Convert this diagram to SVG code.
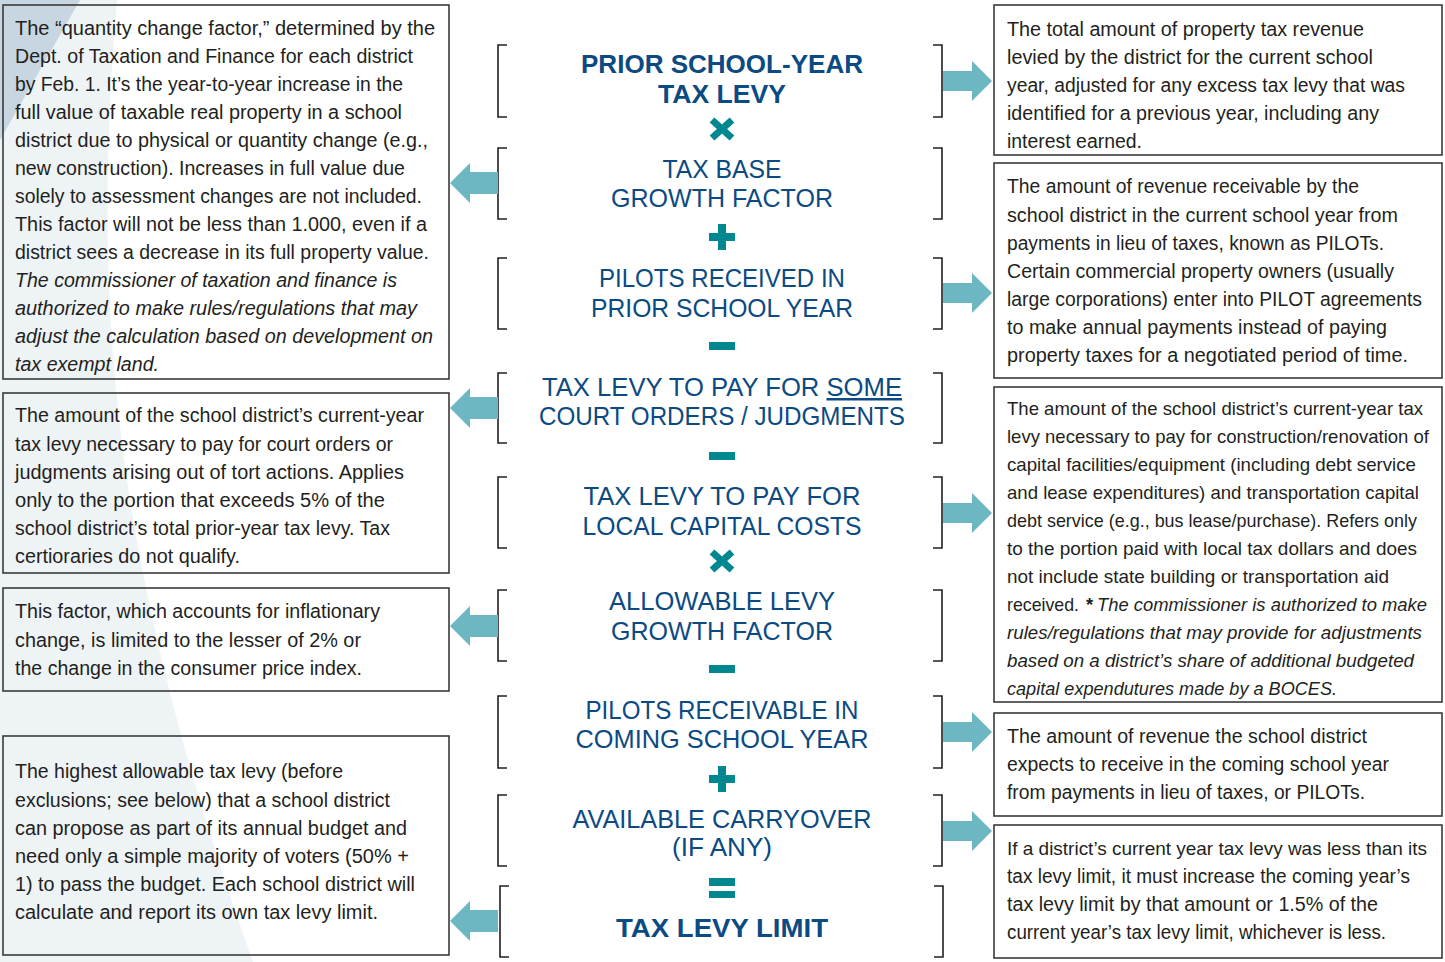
<svg xmlns="http://www.w3.org/2000/svg" width="1445" height="962" viewBox="0 0 1445 962">
<style>
.bg{fill:#ffffff}
.bgl{fill:#eef3f6}
.bgd{fill:#c7d6e1}
.box{fill:none;stroke:#3a3a3a;stroke-width:1.6}
.rbox{fill:#ffffff;stroke:#3a3a3a;stroke-width:1.6}
.t{font-family:"Liberation Sans",Arial,sans-serif;font-size:20px;fill:#231f20}
.s{font-size:18.5px}
.i{font-style:italic}
.h{font-family:"Liberation Sans",Arial,sans-serif;font-size:25px;fill:#0b4a82;text-anchor:middle}
.hb{font-family:"Liberation Sans",Arial,sans-serif;font-size:26px;font-weight:700;fill:#0b4a82;text-anchor:middle}
.br{fill:none;stroke:#231f20;stroke-width:1.6}
.op{fill:#00878f}
.arr{fill:#6cb7c1}
</style>
<defs>
<path id="arrR" d="M0,-10 H29 V-20 L49,0 L29,20 V10 H0 Z"/>
<path id="arrL" d="M0,0 L20,-20 V-11 H48 V11 H20 V20 Z"/>
</defs>
<g id="background">
<rect class="bg" x="0" y="0" width="1445" height="962"/>
<path class="bgl" d="M0,0 H117 C92,300 110,560 253,962 H0 Z"/>
<path class="bgd" d="M0,0 H80 L0,140 Z"/>
</g>

<g id="desc-tax-base-growth">
<rect class="box" x="3" y="5" width="446" height="374"/>
<text class="t" x="15" y="35" textLength="420" lengthAdjust="spacingAndGlyphs">The “quantity change factor,” determined by the</text>
<text class="t" x="15" y="63" textLength="398" lengthAdjust="spacingAndGlyphs">Dept. of Taxation and Finance for each district</text>
<text class="t" x="15" y="91" textLength="388" lengthAdjust="spacingAndGlyphs">by Feb. 1. It’s the year-to-year increase in the</text>
<text class="t" x="15" y="119" textLength="387" lengthAdjust="spacingAndGlyphs">full value of taxable real property in a school</text>
<text class="t" x="15" y="147" textLength="413" lengthAdjust="spacingAndGlyphs">district due to physical or quantity change (e.g.,</text>
<text class="t" x="15" y="175" textLength="390" lengthAdjust="spacingAndGlyphs">new construction). Increases in full value due</text>
<text class="t" x="15" y="203" textLength="407" lengthAdjust="spacingAndGlyphs">solely to assessment changes are not included.</text>
<text class="t" x="15" y="231" textLength="412" lengthAdjust="spacingAndGlyphs">This factor will not be less than 1.000, even if a</text>
<text class="t" x="15" y="259" textLength="414" lengthAdjust="spacingAndGlyphs">district sees a decrease in its full property value.</text>
<text class="t i" x="15" y="287" textLength="382" lengthAdjust="spacingAndGlyphs">The commissioner of taxation and finance is</text>
<text class="t i" x="15" y="315" textLength="402" lengthAdjust="spacingAndGlyphs">authorized to make rules/regulations that may</text>
<text class="t i" x="15" y="343" textLength="418" lengthAdjust="spacingAndGlyphs">adjust the calculation based on development on</text>
<text class="t i" x="15" y="371" textLength="144" lengthAdjust="spacingAndGlyphs">tax exempt land.</text>
</g>

<g id="desc-court-orders">
<rect class="box" x="3" y="393" width="446" height="180"/>
<text class="t" x="15" y="422" textLength="409" lengthAdjust="spacingAndGlyphs">The amount of the school district’s current-year</text>
<text class="t" x="15" y="451" textLength="378" lengthAdjust="spacingAndGlyphs">tax levy necessary to pay for court orders or</text>
<text class="t" x="15" y="479" textLength="389" lengthAdjust="spacingAndGlyphs">judgments arising out of tort actions. Applies</text>
<text class="t" x="15" y="507" textLength="370" lengthAdjust="spacingAndGlyphs">only to the portion that exceeds 5% of the</text>
<text class="t" x="15" y="535" textLength="375" lengthAdjust="spacingAndGlyphs">school district’s total prior-year tax levy. Tax</text>
<text class="t" x="15" y="563" textLength="225" lengthAdjust="spacingAndGlyphs">certioraries do not qualify.</text>
</g>

<g id="desc-allowable-growth">
<rect class="box" x="3" y="588" width="446" height="103"/>
<text class="t" x="15" y="618" textLength="365" lengthAdjust="spacingAndGlyphs">This factor, which accounts for inflationary</text>
<text class="t" x="15" y="647" textLength="346" lengthAdjust="spacingAndGlyphs">change, is limited to the lesser of 2% or</text>
<text class="t" x="15" y="675" textLength="347" lengthAdjust="spacingAndGlyphs">the change in the consumer price index.</text>
</g>

<g id="desc-tax-levy-limit">
<rect class="box" x="3" y="736" width="446" height="219"/>
<text class="t" x="15" y="778" textLength="328" lengthAdjust="spacingAndGlyphs">The highest allowable tax levy (before</text>
<text class="t" x="15" y="807" textLength="375" lengthAdjust="spacingAndGlyphs">exclusions; see below) that a school district</text>
<text class="t" x="15" y="835" textLength="392" lengthAdjust="spacingAndGlyphs">can propose as part of its annual budget and</text>
<text class="t" x="15" y="863" textLength="394" lengthAdjust="spacingAndGlyphs">need only a simple majority of voters (50% +</text>
<text class="t" x="15" y="891" textLength="400" lengthAdjust="spacingAndGlyphs">1) to pass the budget. Each school district will</text>
<text class="t" x="15" y="919" textLength="363" lengthAdjust="spacingAndGlyphs">calculate and report its own tax levy limit.</text>
</g>

<g id="desc-prior-levy">
<rect class="rbox" x="994" y="5" width="448" height="150"/>
<text class="t" x="1007" y="36" textLength="357" lengthAdjust="spacingAndGlyphs">The total amount of property tax revenue</text>
<text class="t" x="1007" y="64" textLength="366" lengthAdjust="spacingAndGlyphs">levied by the district for the current school</text>
<text class="t" x="1007" y="92" textLength="398" lengthAdjust="spacingAndGlyphs">year, adjusted for any excess tax levy that was</text>
<text class="t" x="1007" y="120" textLength="372" lengthAdjust="spacingAndGlyphs">identified for a previous year, including any</text>
<text class="t" x="1007" y="148" textLength="135" lengthAdjust="spacingAndGlyphs">interest earned.</text>
</g>

<g id="desc-pilots-received">
<rect class="rbox" x="994" y="163" width="448" height="215"/>
<text class="t" x="1007" y="193" textLength="352" lengthAdjust="spacingAndGlyphs">The amount of revenue receivable by the</text>
<text class="t" x="1007" y="222" textLength="391" lengthAdjust="spacingAndGlyphs">school district in the current school year from</text>
<text class="t" x="1007" y="250" textLength="377" lengthAdjust="spacingAndGlyphs">payments in lieu of taxes, known as PILOTs.</text>
<text class="t" x="1007" y="278" textLength="387" lengthAdjust="spacingAndGlyphs">Certain commercial property owners (usually</text>
<text class="t" x="1007" y="306" textLength="415" lengthAdjust="spacingAndGlyphs">large corporations) enter into PILOT agreements</text>
<text class="t" x="1007" y="334" textLength="380" lengthAdjust="spacingAndGlyphs">to make annual payments instead of paying</text>
<text class="t" x="1007" y="362" textLength="401" lengthAdjust="spacingAndGlyphs">property taxes for a negotiated period of time.</text>
</g>

<g id="desc-capital-costs">
<rect class="rbox" x="994" y="387" width="448" height="315"/>
<text class="t s" x="1007" y="415" textLength="416" lengthAdjust="spacingAndGlyphs">The amount of the school district’s current-year tax</text>
<text class="t s" x="1007" y="443" textLength="422" lengthAdjust="spacingAndGlyphs">levy necessary to pay for construction/renovation of</text>
<text class="t s" x="1007" y="471" textLength="409" lengthAdjust="spacingAndGlyphs">capital facilities/equipment (including debt service</text>
<text class="t s" x="1007" y="499" textLength="412" lengthAdjust="spacingAndGlyphs">and lease expenditures) and transportation capital</text>
<text class="t s" x="1007" y="527" textLength="410" lengthAdjust="spacingAndGlyphs">debt service (e.g., bus lease/purchase). Refers only</text>
<text class="t s" x="1007" y="555" textLength="410" lengthAdjust="spacingAndGlyphs">to the portion paid with local tax dollars and does</text>
<text class="t s" x="1007" y="583" textLength="382" lengthAdjust="spacingAndGlyphs">not include state building or transportation aid</text>
<text class="t s" x="1007" y="611" textLength="72" lengthAdjust="spacingAndGlyphs">received.</text>
<text class="t s" x="1086" y="611" font-weight="700">*</text>
<text class="t s i" x="1097" y="611" textLength="330" lengthAdjust="spacingAndGlyphs">The commissioner is authorized to make</text>
<text class="t s i" x="1007" y="639" textLength="415" lengthAdjust="spacingAndGlyphs">rules/regulations that may provide for adjustments</text>
<text class="t s i" x="1007" y="667" textLength="407" lengthAdjust="spacingAndGlyphs">based on a district’s share of additional budgeted</text>
<text class="t s i" x="1007" y="695" textLength="330" lengthAdjust="spacingAndGlyphs">capital expendutures made by a BOCES.</text>
</g>

<g id="desc-pilots-receivable">
<rect class="rbox" x="994" y="713" width="448" height="103"/>
<text class="t" x="1007" y="743" textLength="360" lengthAdjust="spacingAndGlyphs">The amount of revenue the school district</text>
<text class="t" x="1007" y="771" textLength="382" lengthAdjust="spacingAndGlyphs">expects to receive in the coming school year</text>
<text class="t" x="1007" y="799" textLength="358" lengthAdjust="spacingAndGlyphs">from payments in lieu of taxes, or PILOTs.</text>
</g>

<g id="desc-carryover">
<rect class="rbox" x="994" y="825" width="448" height="133"/>
<text class="t s" x="1007" y="855" textLength="420" lengthAdjust="spacingAndGlyphs">If a district’s current year tax levy was less than its</text>
<text class="t" x="1007" y="883" textLength="403" lengthAdjust="spacingAndGlyphs">tax levy limit, it must increase the coming year’s</text>
<text class="t" x="1007" y="911" textLength="371" lengthAdjust="spacingAndGlyphs">tax levy limit by that amount or 1.5% of the</text>
<text class="t" x="1007" y="939" textLength="379" lengthAdjust="spacingAndGlyphs">current year’s tax levy limit, whichever is less.</text>
</g>

<g id="term-prior-levy">
<path class="br" d="M507,45 H498 V117 H507 M933,45 H942 V117 H933"/>
<text class="hb" x="722" y="73" textLength="282" lengthAdjust="spacingAndGlyphs">PRIOR SCHOOL-YEAR</text>
<text class="hb" x="722" y="103" textLength="128" lengthAdjust="spacingAndGlyphs">TAX LEVY</text>
</g>
<g id="term-tax-base-growth">
<path class="br" d="M507,148 H498 V219 H507 M933,148 H942 V219 H933"/>
<text class="h" x="722" y="178" textLength="119" lengthAdjust="spacingAndGlyphs">TAX BASE</text>
<text class="h" x="722" y="207" textLength="222" lengthAdjust="spacingAndGlyphs">GROWTH FACTOR</text>
</g>
<g id="term-pilots-received">
<path class="br" d="M507,258 H498 V329 H507 M933,258 H942 V329 H933"/>
<text class="h" x="722" y="287" textLength="246" lengthAdjust="spacingAndGlyphs">PILOTS RECEIVED IN</text>
<text class="h" x="722" y="317" textLength="262" lengthAdjust="spacingAndGlyphs">PRIOR SCHOOL YEAR</text>
</g>
<g id="term-court-orders">
<path class="br" d="M507,373 H498 V443 H507 M933,373 H942 V443 H933"/>
<text class="h" x="722" y="396" textLength="360" lengthAdjust="spacingAndGlyphs">TAX LEVY TO PAY FOR <tspan text-decoration="underline">SOME</tspan></text>
<text class="h" x="722" y="425" textLength="366" lengthAdjust="spacingAndGlyphs">COURT ORDERS / JUDGMENTS</text>
</g>
<g id="term-capital-costs">
<path class="br" d="M507,477 H498 V548 H507 M933,477 H942 V548 H933"/>
<text class="h" x="722" y="505" textLength="277" lengthAdjust="spacingAndGlyphs">TAX LEVY TO PAY FOR</text>
<text class="h" x="722" y="535" textLength="279" lengthAdjust="spacingAndGlyphs">LOCAL CAPITAL COSTS</text>
</g>
<g id="term-allowable-growth">
<path class="br" d="M507,590 H498 V661 H507 M933,590 H942 V661 H933"/>
<text class="h" x="722" y="610" textLength="226" lengthAdjust="spacingAndGlyphs">ALLOWABLE LEVY</text>
<text class="h" x="722" y="640" textLength="222" lengthAdjust="spacingAndGlyphs">GROWTH FACTOR</text>
</g>
<g id="term-pilots-receivable">
<path class="br" d="M507,696 H498 V768 H507 M933,696 H942 V768 H933"/>
<text class="h" x="722" y="719" textLength="273" lengthAdjust="spacingAndGlyphs">PILOTS RECEIVABLE IN</text>
<text class="h" x="722" y="748" textLength="293" lengthAdjust="spacingAndGlyphs">COMING SCHOOL YEAR</text>
</g>
<g id="term-carryover">
<path class="br" d="M507,795 H498 V866 H507 M933,795 H942 V866 H933"/>
<text class="h" x="722" y="828" textLength="299" lengthAdjust="spacingAndGlyphs">AVAILABLE CARRYOVER</text>
<text class="h" x="722" y="856" textLength="100" lengthAdjust="spacingAndGlyphs">(IF ANY)</text>
</g>
<g id="term-tax-levy-limit">
<path class="br" d="M509,886 H500 V957 H509 M934,886 H943 V957 H934"/>
<text class="hb" x="722" y="937" textLength="212" lengthAdjust="spacingAndGlyphs">TAX LEVY LIMIT</text>
</g>

<g id="operators" class="op">
<path d="M712,120 L732,138 M732,120 L712,138" stroke="#00878f" stroke-width="7" fill="none"/>
<rect x="709" y="233" width="26" height="8"/><rect x="718" y="224" width="8" height="26"/>
<rect x="709" y="342" width="26" height="8"/>
<rect x="709" y="452" width="26" height="8"/>
<path d="M712,552 L732,570 M732,552 L712,570" stroke="#00878f" stroke-width="7" fill="none"/>
<rect x="709" y="665" width="26" height="8"/>
<rect x="709" y="775" width="26" height="8"/><rect x="718" y="766" width="8" height="26"/>
<rect x="709" y="878" width="26" height="8"/><rect x="709" y="891" width="26" height="7"/>
</g>

<g id="connectors" class="arr">
<use href="#arrR" x="943" y="81"/>
<use href="#arrR" x="943" y="293"/>
<use href="#arrR" x="943" y="513"/>
<use href="#arrR" x="943" y="732"/>
<use href="#arrR" x="943" y="831"/>
<use href="#arrL" x="450" y="183"/>
<use href="#arrL" x="450" y="408"/>
<use href="#arrL" x="450" y="626"/>
<use href="#arrL" x="450" y="921"/>
</g>
</svg>
